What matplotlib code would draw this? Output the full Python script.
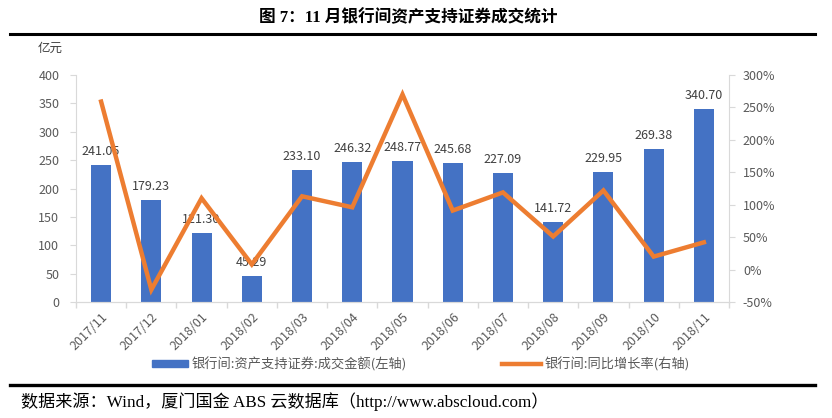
import numpy as np
import matplotlib
matplotlib.use("Agg")
import matplotlib.pyplot as plt
from matplotlib.lines import Line2D
from matplotlib.patches import Patch

plt.rcParams['font.family'] = ['Noto Sans CJK SC', 'DejaVu Sans']

# data
months = ["2017/11", "2017/12", "2018/01", "2018/02", "2018/03", "2018/04", "2018/05",
          "2018/06", "2018/07", "2018/08", "2018/09", "2018/10", "2018/11"]
amount = [241.05, 179.23, 121.30, 45.29, 233.10, 246.32, 248.77,
          245.68, 227.09, 141.72, 229.95, 269.38, 340.70]
growth = [259, -31, 110, 8, 113, 96, 270, 91, 119, 51, 122, 20, 42]

left_ticks = [0, 50, 100, 150, 200, 250, 300, 350, 400]
right_ticks = [-50, 0, 50, 100, 150, 200, 250, 300]

bar_color = "#4472C4"
line_color = "#ED7D31"
tick_color = "#595959"
axis_color = "#D9D9D9"

fig = plt.figure(figsize=(8.32, 4.18), dpi=100)
ax = fig.add_axes([76 / 832, 1 - 302 / 418, (729 - 76) / 832, (302 - 75) / 418])
ax2 = ax.twinx()

x = np.arange(len(months))
ax.bar(x, amount, width=0.4, color=bar_color, zorder=2)
for xi, v in zip(x, amount):
    ax.text(xi, v + 12, f"{v:.2f}", ha="center", va="bottom", fontsize=9, color="#404040")

ax2.plot(x, growth, color=line_color, linewidth=3.2, solid_joinstyle="miter", zorder=3)

ax.set_xlim(-0.5, len(months) - 0.5)
ax.set_ylim(0, 400)
ax.set_yticks(left_ticks)
ax2.set_ylim(-50, 300)
ax2.set_yticks(right_ticks)
ax2.set_yticklabels([f"{t}%" for t in right_ticks])

ax.set_xticks(x)
ax.set_xticklabels(months, rotation=45, ha="right", rotation_mode="anchor")
ax.set_xticks(np.arange(-0.5, len(months), 1), minor=True)
ax.tick_params(axis="x", which="major", length=0, pad=6, labelsize=9, labelcolor=tick_color)
ax.tick_params(axis="x", which="minor", length=4, color=axis_color, width=1)
ax.tick_params(axis="y", length=4, color=axis_color, labelsize=9, labelcolor=tick_color, pad=8)
ax2.tick_params(axis="y", length=4, color=axis_color, labelsize=9, labelcolor=tick_color, pad=6)

for a in (ax, ax2):
    a.spines["top"].set_visible(False)
    a.spines["left"].set_color(axis_color)
    a.spines["right"].set_color(axis_color)
    a.spines["bottom"].set_color(axis_color)
ax.spines["right"].set_visible(False)
ax2.spines["left"].set_visible(False)
ax2.set_zorder(ax.get_zorder() + 1)
ax2.patch.set_visible(False)

fig.text(38 / 832, 1 - 48 / 418, "亿元", fontsize=9, color="#404040", va="center")

# legend, two separate entries placed like the reference
blue_handle = Patch(color=bar_color)
orange_handle = Line2D([], [], color=line_color, linewidth=3.2)
fig.legend([blue_handle], ["银行间:资产支持证券:成交金额(左轴)"], loc="center left",
           bbox_to_anchor=(147 / 832, 1 - 364 / 418), frameon=False, fontsize=9.5,
           handlelength=2.7, handleheight=0.5, labelcolor=tick_color, handletextpad=0.3,
           borderaxespad=0, borderpad=0.4)
fig.legend([orange_handle], ["银行间:同比增长率(右轴)"], loc="center left",
           bbox_to_anchor=(497 / 832, 1 - 364 / 418), frameon=False, fontsize=9.5,
           handlelength=2.9, labelcolor=tick_color, handletextpad=0.3,
           borderaxespad=0, borderpad=0.4)

# title, rules and source line
serif = ["Liberation Serif", "Noto Sans CJK SC"]
fig.text(0.5 * (260 + 557) / 832, 1 - 18 / 418, "图 7：11 月银行间资产支持证券成交统计",
         ha="center", va="center", fontsize=12, fontweight="bold", family=serif)
fig.add_artist(Line2D([10 / 832, 815 / 832], [1 - 34 / 418] * 2, color="black", linewidth=2.2))
fig.add_artist(Line2D([10 / 832, 815 / 832], [1 - 385 / 418] * 2, color="black", linewidth=2.4))
fig.text(21 / 832, 1 - 402 / 418, "数据来源：Wind，厦门国金 ABS 云数据库（http://www.abscloud.com）",
         ha="left", va="center", fontsize=12.3, family=serif)

fig.savefig("out.png", dpi=100)
